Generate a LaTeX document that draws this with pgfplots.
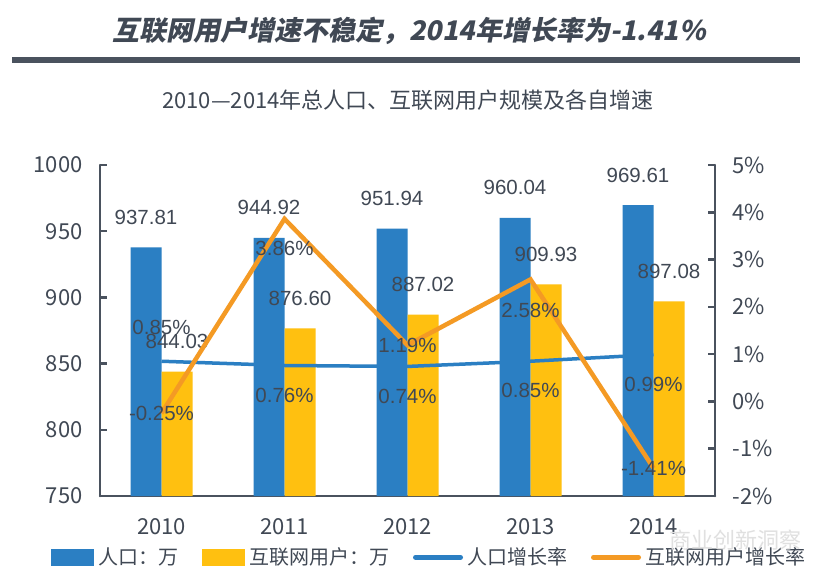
\documentclass[border=0pt]{standalone}
\usepackage{pgfplots}
\pgfplotsset{compat=1.18}
\usepackage{pgfplotstable}
\usepackage{fontspec}
\setmainfont{Noto Sans CJK SC}
\newfontfamily\titlefont{Noto Sans CJK SC}[FakeSlant=0.2]
\newfontfamily\numfont{Liberation Sans}
\definecolor{barblue}{RGB}{43,127,195}
\definecolor{baryellow}{RGB}{255,192,16}
\definecolor{lineorange}{RGB}{244,154,36}
\definecolor{tc}{RGB}{64,72,84}
\definecolor{axc}{RGB}{74,82,94}

\pgfplotstableread{
x pop net
0 937.81 844.03
1 944.92 876.60
2 951.94 887.02
3 960.04 909.93
4 969.61 897.08
}\bardata

\pgfplotstableread{
x g dy
0 0.85 34
1 0.76 -30
2 0.74 -30
3 0.85 -29
4 0.99 -30
}\popgrowth

\pgfplotstableread{
x g dy
0 -0.25 0
1 3.86 -30
2 1.19 0
3 2.58 -31
4 -1.41 0
}\netgrowth

\begin{document}
\begin{tikzpicture}
\useasboundingbox (0pt,0pt) rectangle (832pt,-581pt);
\fill[white] (0pt,0pt) rectangle (832pt,-581pt);
\node[font=\titlefont\bfseries\fontsize{27}{32}\selectfont, text=tc] at (409pt,-31pt) {互联网用户增速不稳定，2014年增长率为-1.41\%};
\draw[line width=6pt, color=axc] (12pt,-60pt) -- (800pt,-60pt);
\node[font=\fontsize{22}{26}\selectfont, text=tc] at (408pt,-100pt) {2010—2014年总人口、互联网用户规模及各自增速};
\coordinate (O) at (100pt,-496pt);

\begin{axis}[
  at={(O)}, anchor=south west,
  width=615pt, height=331pt, scale only axis,
  xmin=-0.5, xmax=4.5, ymin=750, ymax=1000,
  ytick={750,800,...,1000},
  xtick={0,...,4}, xticklabels={2010,2011,2012,2013,2014},
  axis x line*=bottom, axis y line*=left,
  axis line style={line width=2.5pt, color=axc, line cap=round, line join=round},
  x tick style={draw=none},
  y tick style={line width=2.5pt, color=axc},
  tick align=inside, major tick length=7pt,
  ticklabel style={font=\fontsize{22}{26}\selectfont, text=tc},
  /pgf/number format/assume math mode=true,
  /pgf/number format/1000 sep={},
  xticklabel style={yshift=-12pt},
  yticklabel style={xshift=-14pt},
  ybar=0pt, bar width=31pt,
  nodes near coords={\pgfmathprintnumber[fixed,fixed zerofill,precision=2]{\pgfplotspointmeta}},
  every node near coord/.append style={font=\numfont\fontsize{20.5}{24}\selectfont, text=tc, anchor=center, yshift=30pt},
  legend style={at={(0.535,-0.185)}, anchor=center, draw=none, fill=none,
    legend columns=4, font=\fontsize{20}{24}\selectfont, text=tc,
    /tikz/every even column/.append style={column sep=22pt},
    /tikz/every odd column/.append style={column sep=2pt}},
  clip=false,
]
\addplot[fill=barblue, draw=none,
  legend image code/.code={\fill[barblue] (0pt,-8.5pt) rectangle (43pt,8.5pt);}]
  table[x=x,y=pop] {\bardata};
\addlegendentry{人口：万}
\addplot[fill=baryellow, draw=none,
  legend image code/.code={\fill[baryellow] (0pt,-8.5pt) rectangle (43pt,8.5pt);}]
  table[x=x,y=net] {\bardata};
\addlegendentry{互联网用户：万}
\addlegendimage{legend image code/.code={\draw[barblue, line width=5pt, line cap=round] (0pt,0pt) -- (45pt,0pt);}}
\addlegendentry{人口增长率}
\addlegendimage{legend image code/.code={\draw[lineorange, line width=5pt, line cap=round] (0pt,0pt) -- (45pt,0pt);}}
\addlegendentry{互联网用户增长率}
\end{axis}

\begin{axis}[
  at={(O)}, anchor=south west,
  width=615pt, height=331pt, scale only axis,
  xmin=-0.5, xmax=4.5, ymin=-2, ymax=5,
  ytick={-2,...,5},
  yticklabel={\pgfmathprintnumber{\tick}\%},
  axis y line*=right, axis x line=none,
  axis line style={line width=2.5pt, color=axc, line cap=round},
  y tick style={line width=2.5pt, color=axc},
  tick align=inside, major tick length=7pt,
  ticklabel style={font=\fontsize{22}{26}\selectfont, text=tc},
  /pgf/number format/assume math mode=true,
  yticklabel style={xshift=14pt},
  clip=false,
  nodes near coords={\pgfmathprintnumber[fixed,fixed zerofill,precision=2]{\pgfplotspointmeta}\%},
  every node near coord/.append style={font=\numfont\fontsize{20.5}{24}\selectfont, text=tc, anchor=center, yshift=\dy pt},
  visualization depends on={\thisrow{dy} \as \dy},
]
\addplot[barblue, line width=3.5pt, mark=none] table[x=x,y=g] {\popgrowth};
\addplot[lineorange, line width=4.5pt, mark=none, line join=miter] table[x=x,y=g] {\netgrowth};
\end{axis}
\node[font=\fontsize{22}{26}\selectfont, text=black!12] at (735pt,-540pt) {商业创新洞察};
\end{tikzpicture}
\end{document}
